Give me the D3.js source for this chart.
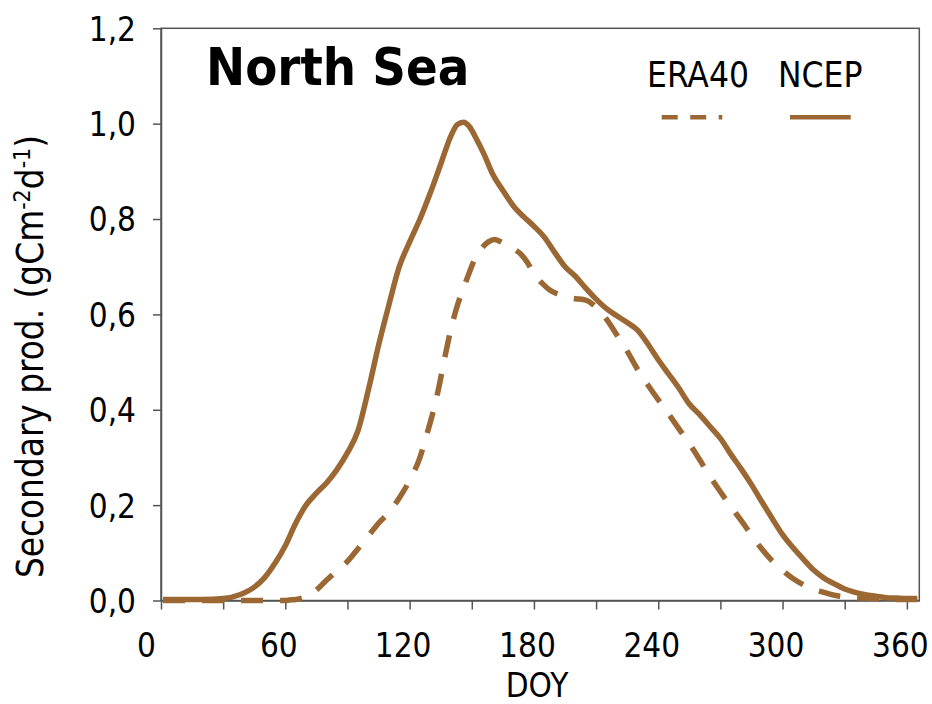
<!DOCTYPE html>
<html>
<head>
<meta charset="utf-8">
<script src="https://cdn.jsdelivr.net/npm/d3@7"></script>
<style>
  html, body { margin: 0; padding: 0; background: #fff; }
  svg { display: block; }
  text { font-family: "DejaVu Sans Condensed", "DejaVu Sans", sans-serif; font-stretch: condensed; fill: #000; }
</style>
</head>
<body>
<svg id="chart" width="932" height="704"></svg>
<script>
// ---- data ----
const ncepDays = [1,10,20,30,38,45,50,55,60,65,70,75,80,85,90,95,100,105,110,115,120,125,130,135,140,143,146,149,152,156,160,165,170,175,180,185,190,195,200,205,210,215,220,225,230,235,240,245,250,255,260,265,270,275,280,285,290,295,300,305,310,315,320,325,330,335,340,345,350,355,360,365];
const ncepValues = [0.002,0.002,0.002,0.004,0.012,0.028,0.048,0.078,0.115,0.162,0.200,0.225,0.247,0.275,0.310,0.355,0.440,0.535,0.620,0.700,0.752,0.800,0.855,0.915,0.975,0.998,1.003,0.993,0.970,0.935,0.895,0.860,0.828,0.805,0.785,0.762,0.730,0.700,0.680,0.655,0.632,0.612,0.597,0.583,0.567,0.538,0.505,0.475,0.445,0.412,0.390,0.365,0.340,0.307,0.276,0.243,0.207,0.172,0.138,0.111,0.087,0.064,0.047,0.035,0.024,0.017,0.012,0.009,0.006,0.005,0.004,0.004];

const eraDays = [1,10,20,30,40,50,60,62,65,70,75,80,85,90,95,100,105,110,115,120,125,128,131,134,137,140,143,146,149,152,155,158,161,165,170,174,177,180,184,188,192,196,200,205,210,215,220,225,230,235,240,245,250,255,260,265,270,275,280,285,290,295,300,305,310,315,320,325,330,335,340,345,350,355,360,365];
const eraValues = [0.0,0.0,0.0,0.0,0.0,0.0,0.0,0.001,0.002,0.008,0.022,0.043,0.063,0.082,0.108,0.135,0.162,0.185,0.215,0.252,0.300,0.344,0.390,0.445,0.510,0.570,0.618,0.655,0.690,0.722,0.740,0.752,0.757,0.750,0.738,0.725,0.708,0.685,0.665,0.650,0.642,0.636,0.633,0.630,0.615,0.590,0.557,0.523,0.485,0.452,0.421,0.391,0.360,0.329,0.295,0.260,0.228,0.197,0.168,0.137,0.108,0.083,0.063,0.046,0.033,0.024,0.017,0.011,0.008,0.006,0.005,0.004,0.003,0.002,0.002,0.002];

const xTickValues = [0,30,60,90,120,150,180,210,240,270,300,330,360];
const xLabelValues = [0,60,120,180,240,300,360];
const yTickValues = [0,0.2,0.4,0.6,0.8,1.0,1.2];
const seriesNames = ["ERA40","NCEP"];
const titleText = "North Sea";
const xAxisTitle = "DOY";

// ---- layout ----
const svg = d3.select("#chart");
const pLeft = 161, pRight = 919.3, pTop = 28.3, pBottom = 600.5;
const x = d3.scaleLinear().domain([0, 366]).range([pLeft, pRight]);
const y = d3.scaleLinear().domain([0, 1.2]).range([pBottom, pTop]);
const lineColor = "#9b6834";
const axisColor = "#555";
const fontFam = '"DejaVu Sans Condensed","DejaVu Sans",sans-serif';

// plot frame
svg.append("rect")
  .attr("x", pLeft).attr("y", pTop)
  .attr("width", pRight - pLeft).attr("height", pBottom - pTop)
  .attr("fill", "none").attr("stroke", axisColor).attr("stroke-width", 1.5);

// x axis
const xAxis = svg.append("g").attr("transform", `translate(0,${pBottom})`)
  .call(d3.axisBottom(x).tickValues(xTickValues).tickSize(9).tickSizeOuter(0)
    .tickFormat(d => xLabelValues.includes(d) ? String(d) : ""));
xAxis.select(".domain").attr("stroke", axisColor).attr("stroke-width", 1.5);
xAxis.selectAll(".tick line").attr("stroke", axisColor).attr("stroke-width", 1.5);
xAxis.selectAll(".tick text")
  .attr("font-size", 33).attr("fill", "#000").attr("y", 0).attr("dy", 0)
  .attr("transform", d => `translate(${d === 0 ? -15 : -7},56)`)
  .style("font-family", fontFam);

// y axis
const yAxis = svg.append("g").attr("transform", `translate(${pLeft},0)`)
  .call(d3.axisLeft(y).tickValues(yTickValues).tickSize(8).tickSizeOuter(0)
    .tickFormat(d => d3.format(".1f")(d).replace(".", ",")));
yAxis.select(".domain").attr("stroke", axisColor).attr("stroke-width", 1.5);
yAxis.selectAll(".tick line").attr("stroke", axisColor).attr("stroke-width", 1.5);
yAxis.selectAll(".tick text")
  .attr("font-size", 33).attr("fill", "#000").attr("x", -25).attr("dy", "0.36em")
  .style("font-family", fontFam);

// lines
const line = d3.line().x(d => x(d[0])).y(d => y(d[1])).curve(d3.curveMonotoneX);
const eraData = d3.zip(eraDays, eraValues);
const ncepData = d3.zip(ncepDays, ncepValues);

svg.append("path").datum(eraData).attr("d", line)
  .attr("fill", "none").attr("stroke", lineColor).attr("stroke-width", 5.5)
  .attr("stroke-dasharray", "22,17");
svg.append("path").datum(ncepData).attr("d", line)
  .attr("fill", "none").attr("stroke", lineColor).attr("stroke-width", 5.5)
  .attr("stroke-linejoin", "round");

// title
svg.append("text").attr("x", 206).attr("y", 85)
  .attr("font-size", 52).attr("font-weight", "bold").text(titleText);

// legend
svg.append("text").attr("x", 647).attr("y", 86.5).attr("font-size", 35).text(seriesNames[0]);
svg.append("text").attr("x", 778).attr("y", 86.5).attr("font-size", 35).text(seriesNames[1]);
svg.append("line").attr("x1", 661.7).attr("x2", 722.3).attr("y1", 117.3).attr("y2", 117.3)
  .attr("stroke", lineColor).attr("stroke-width", 4.5).attr("stroke-dasharray", "16,12.5");
svg.append("line").attr("x1", 790).attr("x2", 850.7).attr("y1", 117.3).attr("y2", 117.3)
  .attr("stroke", lineColor).attr("stroke-width", 4.5);

// axis titles
svg.append("text").attr("x", 537).attr("y", 697).attr("text-anchor", "middle")
  .attr("font-size", 33).text(xAxisTitle);

const yt = svg.append("text").attr("transform", "translate(43,356.5) rotate(-90)")
  .attr("text-anchor", "middle").attr("font-size", 36.5);
yt.append("tspan").text("Secondary prod. (gCm");
yt.append("tspan").attr("font-size", 23).attr("dy", -13).text("-2");
yt.append("tspan").attr("dy", 13).text("d");
yt.append("tspan").attr("font-size", 23).attr("dy", -13).text("-1");
yt.append("tspan").attr("dy", 13).text(")");
</script>
</body>
</html>
